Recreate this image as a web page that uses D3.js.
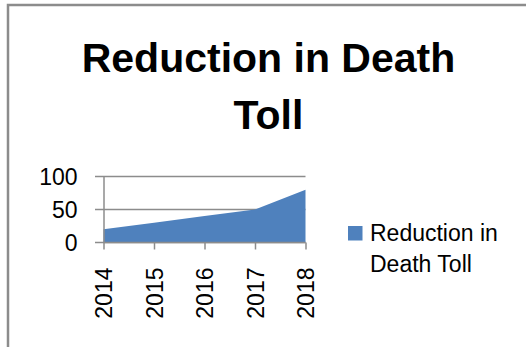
<!DOCTYPE html>
<html><head><meta charset="utf-8">
<script src="https://cdn.jsdelivr.net/npm/d3@7"></script>
<style>
html,body{margin:0;padding:0;background:#fff;}
svg{display:block;}
text{font-family:"Liberation Sans",Arial,sans-serif;fill:#000;}
</style></head>
<body>
<script>
const categories = ["2014","2015","2016","2017","2018"];
const values = [20, 30, 40, 50, 80];
const yTicks = [0, 50, 100];
const seriesName = "Reduction in Death Toll";
const titleLines = ["Reduction in Death", "Toll"];
const legendLines = ["Reduction in", "Death Toll"];

const W = 526, H = 347;
const svg = d3.select("body").append("svg").attr("width", W).attr("height", H);

// chart border
svg.append("path").attr("d", `M8,${H} L8,5 L${W},5`).attr("fill","none")
  .attr("stroke","#8c8c8c").attr("stroke-width",2.5);

// title
const title = svg.append("text").attr("text-anchor","middle")
  .style("font-weight","bold").style("font-size","41px");
titleLines.forEach((t,i)=>{
  title.append("tspan").attr("x",268.5).attr("y",71.5 + i*57).text(t);
});

const x = d3.scalePoint().domain(categories).range([103.5, 305.5]).padding(0);
const y = d3.scaleLinear().domain([0,100]).range([242.5, 176.5]);

// gridlines
svg.append("g").selectAll("line").data(yTicks).join("line")
  .attr("x1",95).attr("x2",305.5)
  .attr("y1",d=>y(d)).attr("y2",d=>y(d))
  .attr("stroke","#8c8c8c").attr("stroke-width",1.5);

// area
const area = d3.area()
  .x((d,i)=>x(categories[i]))
  .y0(y(0)).y1(d=>y(d));
svg.append("path").datum(values).attr("d",area).attr("fill","#4F81BD");

// y axis
const yAxis = d3.axisLeft(y).tickValues(yTicks).tickSize(0).tickPadding(0);
const gy = svg.append("g").attr("transform","translate(103.5,0)").call(yAxis);
gy.select(".domain").attr("stroke","#8c8c8c").attr("stroke-width",1.5);
gy.selectAll("text").attr("x",-26).attr("dy","0.36em")
  .style("font-size","23px").style("font-family","Liberation Sans, Arial, sans-serif").attr("fill","#000");

// x axis
const xAxis = d3.axisBottom(x).tickSize(7).tickPadding(0);
const gx = svg.append("g").attr("transform",`translate(0,${y(0)})`).call(xAxis);
gx.select(".domain").attr("stroke","#8c8c8c").attr("stroke-width",1.5).attr("d",`M103.5,0H305.5`);
gx.selectAll(".tick line").attr("stroke","#8c8c8c").attr("stroke-width",1.5);
gx.selectAll("text")
  .attr("transform","rotate(-90)")
  .attr("text-anchor","end")
  .attr("x",-25).attr("y",0).attr("dy","0.36em")
  .style("font-size","23px").style("font-family","Liberation Sans, Arial, sans-serif").attr("fill","#000");

// legend
const lg = svg.append("g");
lg.append("rect").attr("x",348).attr("y",226).attr("width",14.5).attr("height",14.5).attr("fill","#4F81BD");
const lt = lg.append("text").style("font-size","23px");
legendLines.forEach((t,i)=>{
  lt.append("tspan").attr("x",370).attr("y",241 + i*31).text(t);
});
</script>
</body></html>
